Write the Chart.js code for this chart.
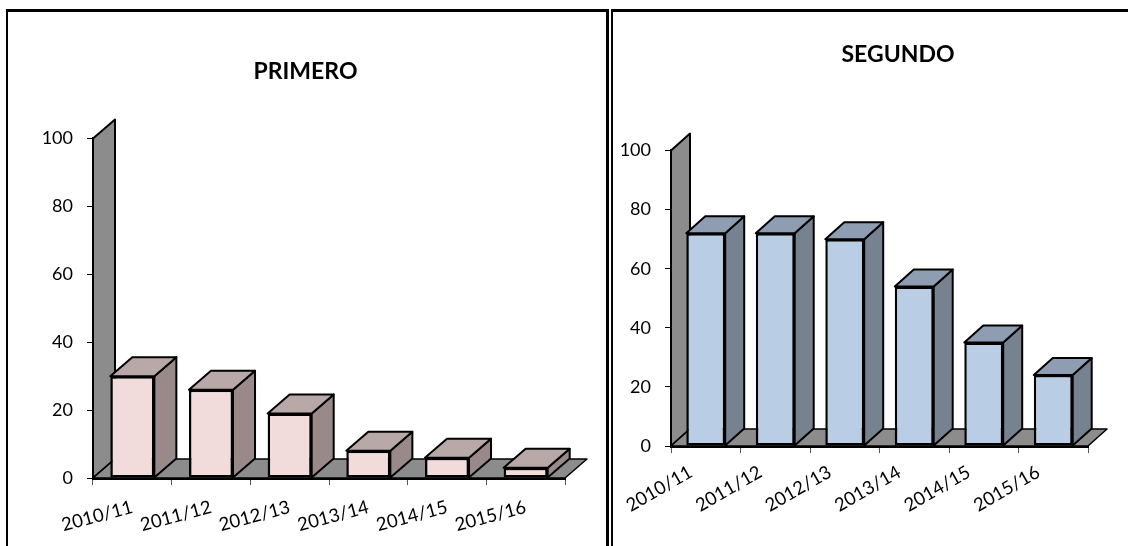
<!DOCTYPE html>
<html>
<head>
<meta charset="utf-8">
<style>
html, body { margin: 0; padding: 0; background: #fff; overflow: hidden; width: 1128px; height: 546px; }
canvas { position: absolute; top: 0; }
#chart1 { left: 0; }
#chart2 { left: 610px; }
.frame { position: absolute; top: 9px; height: 540px; border: 3px solid #000; box-sizing: border-box; }
</style>
<script src="https://cdn.jsdelivr.net/npm/chart.js@4"></script>
</head>
<body>
<canvas id="chart1" width="606" height="546"></canvas>
<canvas id="chart2" width="518" height="546"></canvas>
<div class="frame" style="left:6px;width:603px;border-left-width:2px"></div>
<div class="frame" style="left:611px;width:530px;border-left-width:2px"></div>
<script>
const categories = ['2010/11', '2011/12', '2012/13', '2013/14', '2014/15', '2015/16'];
const primero = [30, 26, 19, 8, 6, 3];
const segundo = [72, 72, 70, 54, 35, 24];
const yTicks = [0, 20, 40, 60, 80, 100];

// extruded walls, floor and bar sides, everything taken from the scales
const box3d = {
    id: 'box3d',
    afterLayout(chart, args, opts) {
        // title is not centred on the canvas in the original
        const t = chart.titleBlock;
        const half = t.width / 2;
        t.left = opts.titleX - half;
        t.right = opts.titleX + half;
    },
    beforeDatasetsDraw(chart, args, opts) {
        const { ctx, chartArea: a } = chart;
        const dx = opts.dx, dy = opts.dy;
        const poly = (pts, fill) => {
            ctx.beginPath();
            pts.forEach((p, i) => i ? ctx.lineTo(p[0], p[1]) : ctx.moveTo(p[0], p[1]));
            ctx.closePath();
            ctx.fillStyle = fill;
            ctx.fill();
            ctx.stroke();
        };
        ctx.save();
        ctx.strokeStyle = '#000';
        ctx.lineJoin = 'round';
        ctx.lineWidth = 2;
        poly([[a.left, a.top], [a.left + dx, a.top - dy], [a.left + dx, a.bottom - dy], [a.left, a.bottom]], opts.wall);
        ctx.lineWidth = 1.5;
        poly([[a.left, a.bottom], [a.right, a.bottom], [a.right + dx, a.bottom - dy], [a.left + dx, a.bottom - dy]], opts.wall);
        ctx.lineWidth = 2;
        chart.getDatasetMeta(0).data.forEach(bar => {
            const l = bar.x - bar.width / 2, r = bar.x + bar.width / 2;
            poly([[r, bar.y], [r + dx, bar.y - dy], [r + dx, bar.base - dy], [r, bar.base]], opts.side);
            poly([[l, bar.y], [l + dx, bar.y - dy], [r + dx, bar.y - dy], [r, bar.y]], opts.top);
        });
        ctx.restore();
    }
};

function makeChart(id, title, values, c) {
    return new Chart(document.getElementById(id), {
        type: 'bar',
        plugins: [box3d],
        data: {
            labels: categories,
            datasets: [{
                data: values,
                backgroundColor: c.front,
                borderColor: '#000',
                borderWidth: 2.5,
                borderSkipped: false,
                categoryPercentage: 1,
                barPercentage: 0.56
            }]
        },
        options: {
            responsive: false,
            animation: false,
            layout: { padding: { right: c.padRight } },
            plugins: {
                legend: { display: false },
                tooltip: { enabled: false },
                title: {
                    display: true,
                    text: title,
                    color: '#000',
                    font: { family: 'Lato', size: 23, weight: 'bold' },
                    padding: { top: c.titleTop, bottom: c.titleBottom }
                },
                box3d: { dx: c.dx, dy: c.dy, wall: '#8c8c8c', side: c.side, top: c.top, titleX: c.titleX }
            },
            scales: {
                x: {
                    z: 1,
                    afterFit: s => { s.height = c.xHeight; },
                    border: { color: '#000', width: 3 },
                    grid: { drawOnChartArea: false, offset: true, color: '#555', tickLength: 7 },
                    ticks: {
                        color: '#000',
                        font: { family: 'Lato', size: 18.5 },
                        minRotation: c.rotation,
                        maxRotation: c.rotation,
                        labelOffset: c.labelOffset,
                        padding: c.labelPad
                    }
                },
                y: {
                    z: 1,
                    min: yTicks[0],
                    max: yTicks[yTicks.length - 1],
                    afterFit: s => { s.width = c.yWidth; },
                    border: { color: '#000', width: 3 },
                    grid: { drawOnChartArea: false, color: '#000', tickLength: 6 },
                    ticks: {
                        color: '#000',
                        stepSize: 20,
                        padding: 14,
                        font: { family: 'Lato', size: 18 }
                    }
                }
            }
        }
    });
}

makeChart('chart1', 'PRIMERO', primero, {
    front: '#f2dcdb', top: '#b8a8a8', side: '#998a89', dx: 22, dy: 19,
    titleTop: 58, titleBottom: 53, titleX: 305.5, yWidth: 93, xHeight: 68, padRight: 41,
    rotation: 15, labelOffset: 0, labelPad: 11
});
makeChart('chart2', 'SEGUNDO', segundo, {
    front: '#b9cde5', top: '#8e9db1', side: '#76828f', dx: 19, dy: 17,
    titleTop: 41, titleBottom: 82, titleX: 288, yWidth: 61, xHeight: 100, padRight: 40,
    rotation: 30, labelOffset: -15, labelPad: 8
});
</script>
</body>
</html>
